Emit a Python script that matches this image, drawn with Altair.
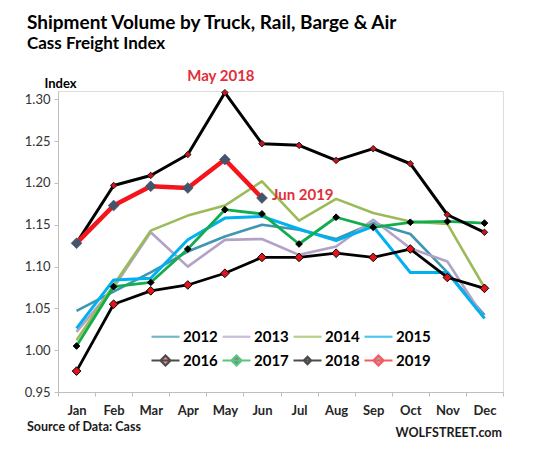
import altair as alt
import pandas as pd

months = ["Jan", "Feb", "Mar", "Apr", "May", "Jun", "Jul", "Aug", "Sep", "Oct", "Nov", "Dec"]
years = ["2012", "2013", "2014", "2015", "2016", "2017", "2018", "2019"]

v2012 = [1.047, 1.070, 1.093, 1.118, 1.136, 1.150, 1.144, 1.133, 1.152, 1.139, 1.093, 1.042]
v2013 = [1.022, 1.075, 1.141, 1.100, 1.132, 1.133, 1.114, 1.124, 1.156, 1.122, 1.106, 1.038]
v2014 = [1.012, 1.078, 1.143, 1.161, 1.173, 1.202, 1.155, 1.181, 1.164, 1.154, 1.151, 1.075]
v2015 = [1.026, 1.084, 1.086, 1.132, 1.158, 1.160, 1.145, 1.131, 1.148, 1.093, 1.093, 1.038]
v2016 = [0.975, 1.055, 1.071, 1.078, 1.092, 1.111, 1.111, 1.116, 1.111, 1.121, 1.087, 1.074]
v2017 = [1.005, 1.076, 1.081, 1.121, 1.168, 1.163, 1.127, 1.159, 1.147, 1.153, 1.154, 1.152]
v2018 = [1.128, 1.197, 1.209, 1.234, 1.308, 1.247, 1.245, 1.227, 1.241, 1.223, 1.162, 1.141]
v2019 = [1.128, 1.173, 1.196, 1.194, 1.228, 1.182]

y_ticks = [0.95, 1.00, 1.05, 1.10, 1.15, 1.20, 1.25, 1.30]

series = dict(zip(years, [v2012, v2013, v2014, v2015, v2016, v2017, v2018, v2019]))
rows = []
for yr in years:
    for m, v in zip(months, series[yr]):
        rows.append({"year": yr, "month": m, "value": v})
df = pd.DataFrame(rows)

notes = pd.DataFrame([
    {"year": "2018", "month": "May", "value": 1.308, "label": "May 2018"},
    {"year": "2019", "month": "Jun", "value": 1.182, "label": "Jun 2019"},
])

FONT = "Lato"

line_color = {
    "2012": "#3E97B0", "2013": "#B3A2C7", "2014": "#9BBB59", "2015": "#00B0F0",
    "2016": "#000000", "2017": "#13AD4F", "2018": "#000000", "2019": "#F5141B",
}
line_width = {
    "2012": 2.6, "2013": 2.6, "2014": 2.6, "2015": 3.0,
    "2016": 2.8, "2017": 2.8, "2018": 3.0, "2019": 4.5,
}
marker = {
    "2016": dict(fill="#E3141B", stroke="#000000", size=75, sw=1.0),
    "2017": dict(fill="#000000", stroke="#000000", size=45, sw=1.0),
    "2018": dict(fill="#D0101A", stroke="#1A1A1A", size=42, sw=1.0),
    "2019": dict(fill="#44546A", stroke="#44546A", size=120, sw=0.5),
}
legend_fill = ["#3E97B0", "#B3A2C7", "#9BBB59", "#00B0F0",
               "#E3141B", "#000000", "#D0101A", "#44546A"]
plain = "M-1,0L1,0"
diam = "M-1,0L1,0M0,-0.36L0.36,0L0,0.36L-0.36,0Z"
small = "M-1,0L1,0M0,-0.26L0.26,0L0,0.26L-0.26,0Z"
legend_shapes = [plain, plain, plain, plain, diam, diam, small, diam]

x_enc = alt.X(
    "month:N",
    sort=months,
    scale=alt.Scale(type="band", domain=months, paddingInner=0, paddingOuter=0),
    axis=alt.Axis(
        title=None, labelAngle=0, tickBand="extent", grid=False,
        domainColor="#BFBFBF", tickColor="#BFBFBF", tickSize=4,
        labelFont=FONT, labelFontSize=13, labelFontWeight="bold",
        labelColor="#262626", labelPadding=8,
    ),
)
y_enc = alt.Y(
    "value:Q",
    scale=alt.Scale(domain=[0.95, 1.31], nice=False, zero=False),
    axis=alt.Axis(
        values=y_ticks, format=".2f", grid=False,
        domainColor="#BFBFBF", tickColor="#BFBFBF", tickSize=4,
        labelFont=FONT, labelFontSize=13, labelColor="#333333", labelPadding=4,
        title="Index", titleAngle=0, titleAlign="center", titleBaseline="middle",
        titleX=2, titleY=-8, titleFont=FONT, titleFontSize=13,
        titleFontWeight="bold", titleColor="#000000",
    ),
)

base = alt.Chart(df).encode(x=x_enc, y=y_enc)

layers = []
for yr in years:
    layers.append(
        base.transform_filter(alt.datum.year == yr).mark_line(
            color=line_color[yr], strokeWidth=line_width[yr], strokeJoin="round"
        )
    )
    if yr in marker:
        ms = marker[yr]
        layers.append(
            base.transform_filter(alt.datum.year == yr).mark_point(
                shape="diamond", filled=True, fill=ms["fill"], stroke=ms["stroke"],
                strokeWidth=ms["sw"], size=ms["size"], opacity=1,
            )
        )

leg = dict(
    orient="none", legendX=92, legendY=230, columns=4, direction="horizontal", title=None,
    symbolSize=784, symbolStrokeWidth=2.2, labelFont=FONT, labelFontSize=15,
    labelFontWeight="bold", labelColor="#000000", labelOffset=2,
    columnPadding=0, rowPadding=0, padding=0,
)
legend_layer = base.transform_filter(alt.datum.value < 0).mark_point(filled=True).encode(
    stroke=alt.Stroke("year:N", scale=alt.Scale(domain=years, range=[line_color[y] for y in years]),
                      legend=alt.Legend(**leg)),
    fill=alt.Fill("year:N", scale=alt.Scale(domain=years, range=legend_fill),
                  legend=alt.Legend(**leg)),
    shape=alt.Shape("year:N", scale=alt.Scale(domain=years, range=legend_shapes),
                    legend=alt.Legend(**leg)),
)
layers.append(legend_layer)

note_base = alt.Chart(notes).encode(
    x=alt.X("month:N", sort=months), y=alt.Y("value:Q"), text="label:N"
)
may = note_base.transform_filter(alt.datum.label == "May 2018").mark_text(
    font=FONT, fontSize=15, fontWeight="bold", color="#E0303A",
    align="center", baseline="bottom", dy=-9, dx=-4,
)
jun = note_base.transform_filter(alt.datum.label == "Jun 2019").mark_text(
    font=FONT, fontSize=15, fontWeight="bold", color="#E0303A",
    align="left", baseline="middle", dx=10, dy=-3,
)
layers += [may, jun]

foot = pd.DataFrame([{"left": "Source of Data: Cass", "right": "WOLFSTREET.com"}])
src = alt.Chart(foot).mark_text(
    font=FONT, fontSize=12.5, fontWeight="bold", color="#1A1A1A", align="left", baseline="alphabetic"
).encode(text="left:N", x=alt.value(-31), y=alt.value(340))
wolf = alt.Chart(foot).mark_text(
    font=FONT, fontSize=12.5, fontWeight="bold", color="#1A1A1A", align="right", baseline="alphabetic"
).encode(text="right:N", x=alt.value(444), y=alt.value(346))
layers += [src, wolf]

chart = alt.layer(*layers).properties(
    width=445, height=301,
    padding={"left": 50, "top": 83, "right": 39, "bottom": 50},
    autosize=alt.AutoSizeParams(type="none"),
    title=alt.Title(
        "Shipment Volume by Truck, Rail, Barge & Air",
        subtitle="Cass Freight Index",
        anchor="start", frame="group", dx=-31, offset=17,
        font=FONT, fontSize=19, fontWeight="bold", color="#000000",
        subtitleFont=FONT, subtitleFontSize=17, subtitleFontWeight="bold",
        subtitleColor="#000000", subtitlePadding=3,
    ),
).configure_view(stroke=None).configure(background="white")

chart.save("out.html", embed_options={"renderer": "svg", "actions": False})
